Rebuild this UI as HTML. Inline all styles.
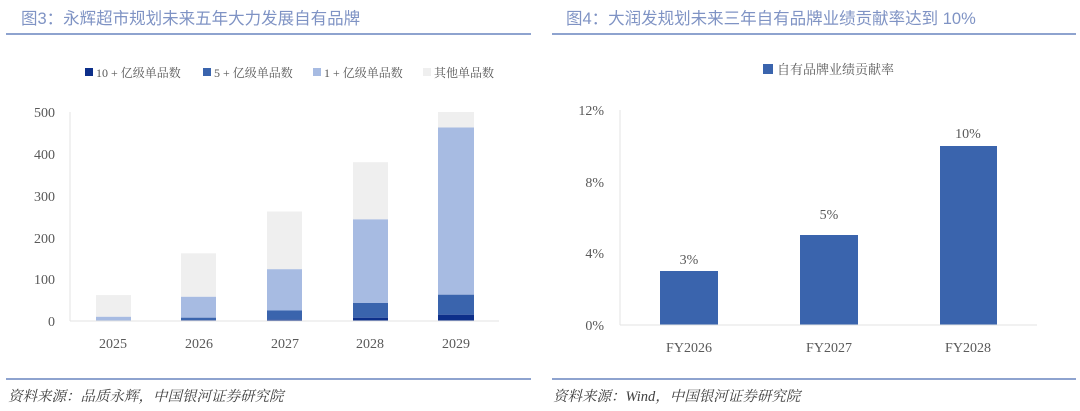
<!DOCTYPE html>
<html><head><meta charset="utf-8"><style>
body{margin:0;background:#fff}
svg{display:block}
text{font-family:"Liberation Serif","Noto Serif CJK SC",serif;fill:#595959}
.t{font-family:"Liberation Sans","Noto Sans CJK SC",sans-serif;fill:#7f93c4;font-size:16.5px}
.s{font-family:"Liberation Serif","Noto Serif CJK SC",serif;font-style:italic;fill:#404040;font-size:14.5px}
.l{font-size:12px}
.a{font-size:14px}
</style></head><body>
<svg width="1080" height="411" xmlns="http://www.w3.org/2000/svg">
<text class="t" x="21" y="24">图3：永辉超市规划未来五年大力发展自有品牌</text>
<text class="t" x="566" y="24">图4：大润发规划未来三年自有品牌业绩贡献率达到 10%</text>
<rect x="6" y="33" width="525" height="2" fill="#8ea3cf"/>
<rect x="552" y="33" width="524" height="2" fill="#8ea3cf"/>
<rect x="6" y="378" width="525" height="2" fill="#8ea3cf"/>
<rect x="552" y="378" width="524" height="2" fill="#8ea3cf"/>
<text class="s" x="8" y="401">资料来源：品质永辉，中国银河证券研究院</text>
<text class="s" x="553" y="401">资料来源：Wind，中国银河证券研究院</text>

<rect x="85" y="68" width="8" height="8" fill="#0d2f8a"/><text class="l" x="96" y="77">10 + 亿级单品数</text>
<rect x="203" y="68" width="8" height="8" fill="#3a64ad"/><text class="l" x="214" y="77">5 + 亿级单品数</text>
<rect x="313" y="68" width="8" height="8" fill="#a7bbe2"/><text class="l" x="324" y="77">1 + 亿级单品数</text>
<rect x="423" y="68" width="8" height="8" fill="#efefef"/><text class="l" x="434" y="77">其他单品数</text>

<g class="a" text-anchor="end">
<text x="55" y="117" class="a">500</text><text x="55" y="159" class="a">400</text><text x="55" y="201" class="a">300</text>
<text x="55" y="243" class="a">200</text><text x="55" y="284" class="a">100</text><text x="55" y="326" class="a">0</text>
</g>
<line x1="70" y1="112" x2="70" y2="321" stroke="#e3e3e3"/>
<rect x="96" y="295.1" width="35" height="21.7" fill="#efefef"/><rect x="96" y="316.8" width="35" height="4.2" fill="#a7bbe2"/>
<rect x="181" y="253.3" width="35" height="43.5" fill="#efefef"/><rect x="181" y="296.8" width="35" height="20.9" fill="#a7bbe2"/><rect x="181" y="317.7" width="35" height="2.5" fill="#3a64ad"/><rect x="181" y="320.2" width="35" height="0.8" fill="#0d2f8a"/>
<rect x="267" y="211.5" width="35" height="57.7" fill="#efefef"/><rect x="267" y="269.2" width="35" height="41.3" fill="#a7bbe2"/><rect x="267" y="310.5" width="35" height="9.2" fill="#3a64ad"/><rect x="267" y="319.7" width="35" height="1.3" fill="#0d2f8a"/>
<rect x="353" y="162.2" width="35" height="57.2" fill="#efefef"/><rect x="353" y="219.4" width="35" height="83.6" fill="#a7bbe2"/><rect x="353" y="303" width="35" height="14.7" fill="#3a64ad"/><rect x="353" y="317.7" width="35" height="3.3" fill="#0d2f8a"/>
<rect x="438" y="112" width="36" height="15.5" fill="#efefef"/><rect x="438" y="127.5" width="36" height="167.2" fill="#a7bbe2"/><rect x="438" y="294.7" width="36" height="20" fill="#3a64ad"/><rect x="438" y="314.7" width="36" height="6.3" fill="#0d2f8a"/>
<line x1="70" y1="321" x2="499" y2="321" stroke="#e3e3e3"/>
<g text-anchor="middle" class="a">
<text class="a" x="113" y="348">2025</text><text class="a" x="199" y="348">2026</text><text class="a" x="285" y="348">2027</text><text class="a" x="370" y="348">2028</text><text class="a" x="456" y="348">2029</text>
</g>

<rect x="763" y="64" width="10" height="10" fill="#3a64ad"/><text x="777" y="74" style="font-size:13px">自有品牌业绩贡献率</text>
<g text-anchor="end">
<text class="a" x="604" y="115">12%</text><text class="a" x="604" y="187">8%</text><text class="a" x="604" y="258">4%</text><text class="a" x="604" y="330">0%</text>
</g>
<line x1="620" y1="110" x2="620" y2="325" stroke="#e3e3e3"/>
<rect x="660" y="271" width="58" height="54" fill="#3a64ad"/>
<rect x="800" y="235" width="58" height="90" fill="#3a64ad"/>
<rect x="940" y="146" width="57" height="179" fill="#3a64ad"/>
<line x1="620" y1="325" x2="1037" y2="325" stroke="#e3e3e3"/>
<g text-anchor="middle">
<text class="a" x="689" y="264">3%</text><text class="a" x="829" y="219">5%</text><text class="a" x="968" y="138">10%</text>
<text class="a" x="689" y="352">FY2026</text><text class="a" x="829" y="352">FY2027</text><text class="a" x="968" y="352">FY2028</text>
</g>
</svg>
</body></html>
